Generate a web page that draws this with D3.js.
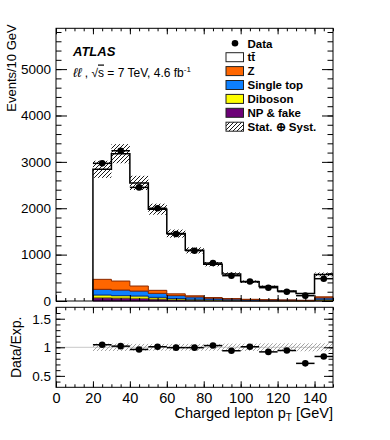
<!DOCTYPE html>
<html>
<head>
<meta charset="utf-8">
<script src="https://cdn.jsdelivr.net/npm/d3@7"></script>
<style>
  body { margin: 0; background: #fff; }
  text { font-family: "Liberation Sans", Arial, Helvetica, sans-serif; }
</style>
</head>
<body>
<svg id="chart" width="390" height="440"></svg>
<script>
// Charged lepton pT — stacked MC + data, with Data/Exp. ratio panel

// ── Data ────────────────────────────────────────────────────────────────────
const binLow    = [20, 30, 40, 50, 60, 70, 80, 90, 100, 110, 120, 130, 140];
const binWidth  = 10;
const dataCount = [2968, 3240, 2450, 2000, 1444, 1085, 818, 546, 420, 287, 201, 115, 481];
const ttbar     = [2373, 2746, 2224, 1750, 1299, 980, 719, 529, 379, 286, 193, 146, 483];
const zjets     = [215, 193, 108, 65, 38, 24, 14, 9, 6, 4, 3, 2, 22];
const singleTop = [122, 122, 107, 86, 62, 48, 34, 24, 17, 12, 9, 6, 30];
const diboson   = [60, 50, 51, 36, 26, 20, 15, 11, 8, 6, 5, 4, 20];
const npFake    = [70, 65, 57, 43, 28, 20, 12, 8, 6, 4, 3, 2, 18];
const relUnc    = [0.065, 0.065, 0.06, 0.06, 0.06, 0.06, 0.06, 0.065, 0.065, 0.07, 0.07, 0.07, 0.07];

const xTickValues      = [0, 20, 40, 60, 80, 100, 120, 140];
const yMainTickValues  = [0, 1000, 2000, 3000, 4000, 5000];
const yRatioTickValues = [0.5, 1, 1.5];

// stacking order: bottom → top
const layers = [
  { key: 'np',      label: 'NP & fake',  values: npFake,    fill: '#6c0077', stroke: '#2e0033' },
  { key: 'diboson', label: 'Diboson',    values: diboson,   fill: '#ffff00', stroke: '#8c8c00' },
  { key: 'single',  label: 'Single top', values: singleTop, fill: '#0d80ff', stroke: '#00308f' },
  { key: 'z',       label: 'Z',          values: zjets,     fill: '#ff6600', stroke: '#8b2a00' },
  { key: 'tt',      label: 'tt\u0304',   values: ttbar,     fill: '#ffffff', stroke: '#000000' },
];

// ── Geometry ────────────────────────────────────────────────────────────────
const L = 56, R = 333;
const mainTop = 28.3, mainBot = 301;
const ratTop = 307.3, ratBot = 387.3;

const svg = d3.select('#chart');
svg.append('rect').attr('width', 390).attr('height', 440).attr('fill', '#fff');

const x      = d3.scaleLinear().domain([0, 150]).range([L, R]);
const yMain  = d3.scaleLinear().domain([0, 5880]).range([mainBot, mainTop]);
const yRatio = d3.scaleLinear().domain([0.3, 1.7]).range([ratBot, ratTop]);

// Hatch patterns
const defs = svg.append('defs');
function hatch(id, color, w) {
  defs.append('pattern').attr('id', id)
    .attr('patternUnits', 'userSpaceOnUse').attr('width', 4).attr('height', 4)
    .append('path')
    .attr('d', 'M-1,1 l2,-2 M0,4 l4,-4 M3,5 l2,-2')
    .attr('stroke', color).attr('stroke-width', w);
}
hatch('hatchBlack', '#000', 0.9);
hatch('hatchGray', '#9a9a9a', 0.9);

// ── Stack ───────────────────────────────────────────────────────────────────
const rows = binLow.map((lo, i) => {
  const r = { x0: lo };
  layers.forEach(l => { r[l.key] = l.values[i]; });
  return r;
});
const stacked = d3.stack().keys(layers.map(l => l.key))(rows);
const total = rows.map(r => layers.reduce((s, l) => s + r[l.key], 0));

const gMain = svg.append('g');

const stepArea = d3.area()
  .x(d => x(d.x))
  .y0(d => yMain(d.y0))
  .y1(d => yMain(d.y1))
  .curve(d3.curveStepAfter);

stacked.forEach((s, li) => {
  const lay = layers[li];
  if (lay.key === 'tt') return; // white fill, outline drawn as total
  const pts = s.map((d, i) => ({ x: binLow[i], y0: d[0], y1: d[1] }));
  const last = pts[pts.length - 1];
  pts.push({ x: binLow[binLow.length - 1] + binWidth, y0: last.y0, y1: last.y1 });
  gMain.append('path')
    .attr('d', stepArea(pts))
    .attr('fill', lay.fill)
    .attr('stroke', lay.stroke)
    .attr('stroke-width', 1);
});

// Total MC outline
const totalPts = [{ x: binLow[0], v: 0 }]
  .concat(binLow.map((lo, i) => ({ x: lo, v: total[i] })))
  .concat([{ x: binLow[binLow.length - 1] + binWidth, v: total[total.length - 1] }]);
gMain.append('path')
  .attr('d', d3.line().x(d => x(d.x)).y(d => yMain(d.v)).curve(d3.curveStepAfter)(totalPts))
  .attr('fill', 'none').attr('stroke', '#000').attr('stroke-width', 1.5);

// Uncertainty band
gMain.selectAll('.unc').data(binLow).join('rect')
  .attr('x', d => x(d)).attr('width', x(binWidth) - x(0))
  .attr('y', (d, i) => yMain(total[i] * (1 + relUnc[i])))
  .attr('height', (d, i) => yMain(total[i] * (1 - relUnc[i])) - yMain(total[i] * (1 + relUnc[i])))
  .attr('fill', 'url(#hatchBlack)');

// Data points
const gData = gMain.append('g');
gData.selectAll('line').data(binLow).join('line')
  .attr('x1', d => x(d)).attr('x2', d => x(d + binWidth))
  .attr('y1', (d, i) => yMain(dataCount[i])).attr('y2', (d, i) => yMain(dataCount[i]))
  .attr('stroke', '#000').attr('stroke-width', 1.5);
gData.selectAll('circle').data(binLow).join('circle')
  .attr('cx', d => x(d + binWidth / 2)).attr('cy', (d, i) => yMain(dataCount[i]))
  .attr('r', 3.3).attr('fill', '#000');

// ── Ratio panel ─────────────────────────────────────────────────────────────
const ratio = dataCount.map((d, i) => d / total[i]);
const gRat = svg.append('g');
gRat.append('line')
  .attr('x1', x(0)).attr('x2', x(150)).attr('y1', yRatio(1)).attr('y2', yRatio(1))
  .attr('stroke', '#c8c8c8').attr('stroke-width', 1);
gRat.selectAll('.unc').data(binLow).join('rect')
  .attr('x', d => x(d)).attr('width', x(binWidth) - x(0))
  .attr('y', (d, i) => yRatio(1 + relUnc[i]))
  .attr('height', (d, i) => yRatio(1 - relUnc[i]) - yRatio(1 + relUnc[i]))
  .attr('fill', 'url(#hatchGray)');
gRat.selectAll('line.err').data(binLow).join('line').attr('class', 'err')
  .attr('x1', d => x(d)).attr('x2', d => x(d + binWidth))
  .attr('y1', (d, i) => yRatio(ratio[i])).attr('y2', (d, i) => yRatio(ratio[i]))
  .attr('stroke', '#000').attr('stroke-width', 1.5);
gRat.selectAll('circle').data(binLow).join('circle')
  .attr('cx', d => x(d + binWidth / 2)).attr('cy', (d, i) => yRatio(ratio[i]))
  .attr('r', 3.3).attr('fill', '#000');

// ── Axes (ROOT style: ticks inside on all four sides) ───────────────────────
function axisSet(yScale, top, bot, yMajor, yMinor, yMajLen, xMajLen, showX, yFmt) {
  const minorX = d3.range(0, 151, 5);
  const g = svg.append('g');
  const addAxis = (axis, tx, ty) => {
    const a = g.append('g').attr('transform', `translate(${tx},${ty})`).call(axis);
    a.select('.domain').remove();
    a.selectAll('line').attr('stroke', '#000');
    a.selectAll('text').attr('fill', '#000').attr('font-size', 13.5)
      .style('font-family', '"Liberation Sans", Arial, sans-serif');
    return a;
  };
  // Y
  addAxis(d3.axisLeft(yScale).tickValues(yMinor).tickSize(-yMajLen / 2).tickFormat(''), L, 0);
  addAxis(d3.axisLeft(yScale).tickValues(yMajor).tickSize(-yMajLen).tickPadding(5).tickFormat(yFmt), L, 0);
  addAxis(d3.axisRight(yScale).tickValues(yMinor).tickSize(-yMajLen / 2).tickFormat(''), R, 0);
  addAxis(d3.axisRight(yScale).tickValues(yMajor).tickSize(-yMajLen).tickFormat(''), R, 0);
  // X
  addAxis(d3.axisBottom(x).tickValues(minorX).tickSize(-xMajLen / 2).tickFormat(''), 0, bot);
  const xb = addAxis(d3.axisBottom(x).tickValues(xTickValues).tickSize(-xMajLen).tickPadding(5)
    .tickFormat(showX ? d3.format('d') : ''), 0, bot);
  xb.selectAll('text').attr('font-size', 14.5);
  addAxis(d3.axisTop(x).tickValues(minorX).tickSize(-xMajLen / 2).tickFormat(''), 0, top);
  addAxis(d3.axisTop(x).tickValues(xTickValues).tickSize(-xMajLen).tickFormat(''), 0, top);
  // frame
  g.append('rect').attr('x', L).attr('y', top).attr('width', R - L).attr('height', bot - top)
    .attr('fill', 'none').attr('stroke', '#000').attr('stroke-width', 1);
}
axisSet(yMain, mainTop, mainBot, yMainTickValues, d3.range(0, 5801, 200), 11, 6, false, d3.format('d'));
axisSet(yRatio, ratTop, ratBot, yRatioTickValues, d3.range(0.4, 1.61, 0.1).map(v => +v.toFixed(1)), 9, 6, true,
  v => (v === 1 ? '1' : v.toString()));

// Axis titles
svg.append('text')
  .attr('transform', `translate(16,${mainTop - 4}) rotate(-90)`)
  .attr('text-anchor', 'end').attr('font-size', 13)
  .text('Events/10 GeV');
svg.append('text')
  .attr('transform', `translate(21,${(ratTop + ratBot) / 2}) rotate(-90)`)
  .attr('text-anchor', 'middle').attr('font-size', 14)
  .text('Data/Exp.');
const xt = svg.append('text')
  .attr('x', R).attr('y', 418).attr('text-anchor', 'end').attr('font-size', 14.5);
xt.append('tspan').text('Charged lepton p');
xt.append('tspan').attr('font-size', 10).attr('dy', 3).text('T');
xt.append('tspan').attr('dy', -3).text(' [GeV]');

// ── Labels ──────────────────────────────────────────────────────────────────
svg.append('text').attr('x', 73).attr('y', 56)
  .attr('font-size', 13).attr('font-weight', 'bold').attr('font-style', 'italic')
  .text('ATLAS');
const lab = svg.append('text').attr('x', 73).attr('y', 76.5).attr('font-size', 12);
lab.append('tspan').attr('font-style', 'italic').attr('font-size', 13).text('\u2113\u2113');
lab.append('tspan').text(' , \u221A');
lab.append('tspan').style('text-decoration', 'overline').text('s');
lab.append('tspan').text(' = 7 TeV, 4.6 fb');
lab.append('tspan').attr('font-size', 8).attr('dy', -5).text('-1');

// ── Legend ──────────────────────────────────────────────────────────────────
const legRows = [
  { label: 'Data', type: 'dot' },
  { label: 'tt\u0304', type: 'box', fill: '#fff' },
  { label: 'Z', type: 'box', fill: layers[3].fill },
  { label: 'Single top', type: 'box', fill: layers[2].fill },
  { label: 'Diboson', type: 'box', fill: layers[1].fill },
  { label: 'NP & fake', type: 'box', fill: layers[0].fill },
  { label: 'Stat. \u2295 Syst.', type: 'box', fill: 'url(#hatchBlack)' },
];
const leg = svg.append('g');
legRows.forEach((r, i) => {
  const cy = 43.3 + i * 13.9;
  if (r.type === 'dot') {
    leg.append('circle').attr('cx', 235).attr('cy', cy).attr('r', 3.3).attr('fill', '#000');
  } else {
    leg.append('rect').attr('x', 226).attr('y', cy - 4.5).attr('width', 17.5).attr('height', 9)
      .attr('fill', r.fill).attr('stroke', '#222').attr('stroke-width', 1);
  }
  leg.append('text').attr('x', 247.5).attr('y', cy + 4.2)
    .attr('font-size', 11.5).attr('font-weight', 'bold').text(r.label);
});
</script>
</body>
</html>
